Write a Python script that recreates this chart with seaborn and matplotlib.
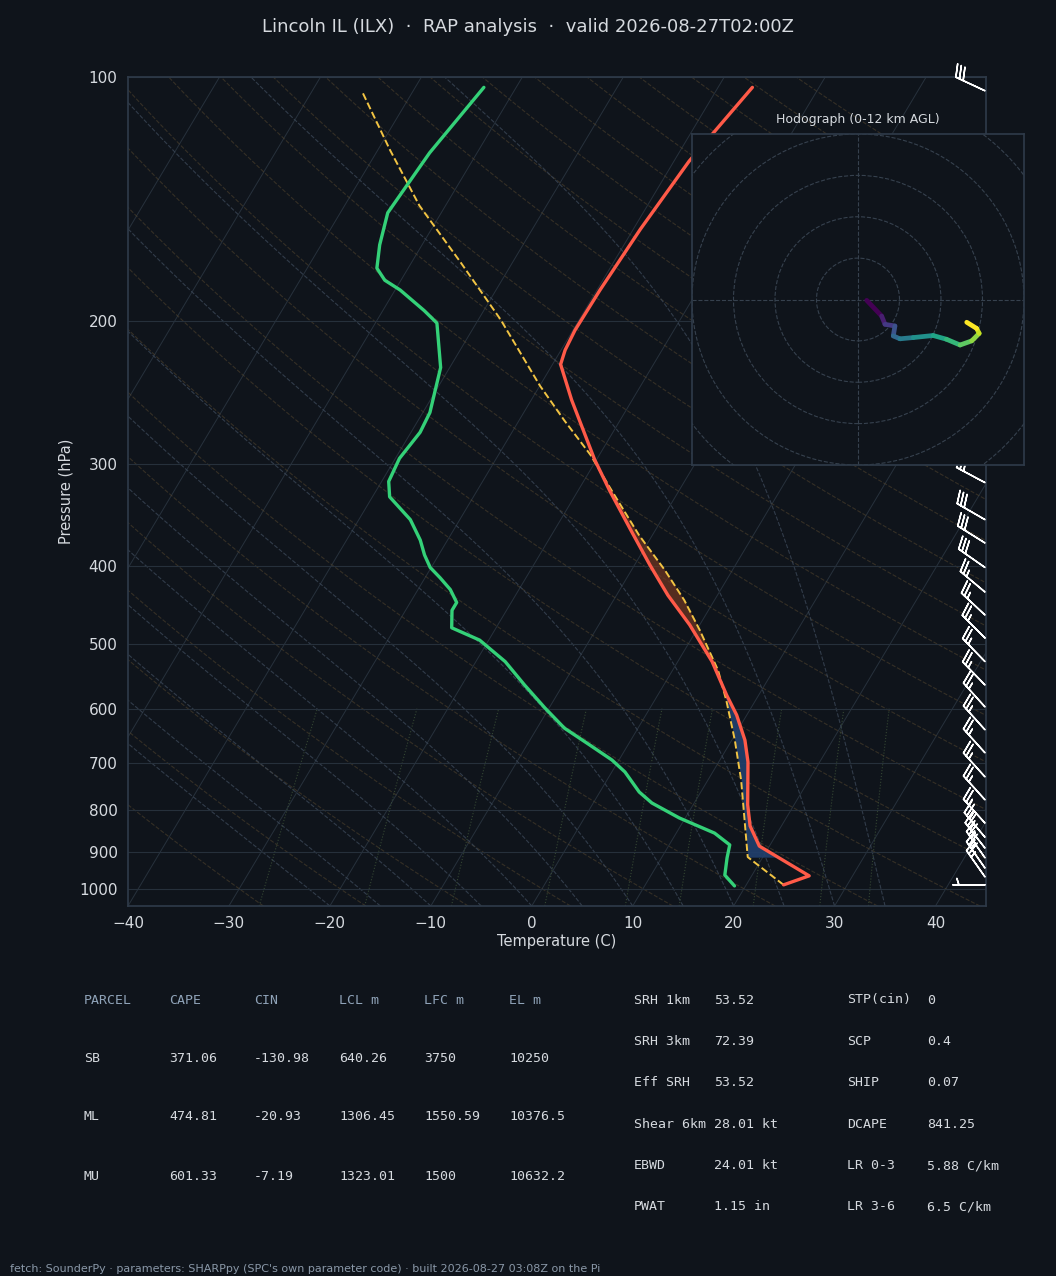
import numpy as np
import matplotlib
matplotlib.use('Agg')
import matplotlib.pyplot as plt
import seaborn as sns
from matplotlib.collections import LineCollection

# ---------------- data ----------------
# environmental temperature profile
T_P = [989, 964, 886, 837, 788, 698, 656, 611, 577, 525, 473, 435, 399, 361, 323, 296,
       250, 226, 217, 205, 183, 154, 127, 103]
T_C = [23.7, 25.7, 19.0, 16.9, 15.4, 12.9, 11.3, 9.0, 6.8, 3.4, -1.0, -4.9, -8.5, -12.5,
       -16.9, -20.2, -26.0, -29.2, -29.6, -29.8, -29.7, -29.3, -28.5, -26.6]
# dewpoint profile
TD_P = [992, 962, 916, 883, 854, 818, 784, 760, 718, 694, 665, 634, 599, 561, 525, 494,
        477, 454, 444, 428, 414, 402, 388, 372, 351, 329, 315, 295, 274, 259, 228, 201,
        194, 183, 178, 172, 161, 147, 124, 103]
TD_C = [18.9, 17.3, 16.5, 16.0, 13.8, 9.4, 5.8, 3.9, 1.3, -0.7, -3.8, -7.3, -10.4, -13.8,
        -17.1, -20.9, -24.4, -25.4, -25.4, -26.8, -28.5, -30.1, -31.4, -32.7, -34.9, -38.3,
        -39.3, -39.6, -39.1, -39.3, -40.9, -43.9, -45.9, -49.5, -51.6, -53.1, -54.2, -55.3,
        -54.7, -53.2]
# surface-based parcel path
PCL_P = [989, 914, 823, 735, 656, 586, 538, 480, 441, 405, 367, 323, 292, 265, 240, 199,
         169, 144, 123, 104]
PCL_C = [23.7, 18.5, 16.0, 13.3, 10.3, 7.1, 4.5, 0.3, -3.0, -6.7, -11.3, -16.7, -20.9,
         -25.5, -30.0, -37.8, -45.2, -52.6, -58.8, -65.1]
# wind barbs
BARB_P = [989, 967, 943, 916, 891, 864, 830, 777, 728, 680, 637, 597, 561, 525, 491, 460,
          431, 402, 375, 351, 316, 285, 250, 210, 180, 150, 130, 104]
BARB_SPD = [5, 25, 25, 25, 25, 25, 25, 25, 25, 25, 25, 25, 25, 25, 25, 25,
            25, 30, 30, 30, 30, 30, 30, 30, 30, 30, 30, 30]
BARB_DIR = [270, 325, 325, 325, 322, 320, 318, 318, 318, 318, 318, 318, 316, 316, 315, 313,
            310, 305, 302, 300, 298, 296, 295, 295, 295, 295, 295, 295]
# hodograph (u, v)
HODO_U = [2.1, 5.7, 6.5, 8.9, 8.5, 10.1, 13.3, 18.1, 21.3, 24.6, 27.4, 29.2, 28.6, 26.2]
HODO_V = [-0.2, -4.0, -6.0, -6.4, -8.8, -9.5, -9.2, -8.7, -9.6, -11.0, -10.0, -8.2, -7.0, -5.5]

CAPE_SHADE_TOP = 540
CIN_SHADE_BOTTOM = 915

PARCEL_ROWS = [
    ["PARCEL", "CAPE", "CIN", "LCL m", "LFC m", "EL m"],
    ["SB", "371.06", "-130.98", "640.26", "3750", "10250"],
    ["ML", "474.81", "-20.93", "1306.45", "1550.59", "10376.5"],
    ["MU", "601.33", "-7.19", "1323.01", "1500", "10632.2"],
]
PARAM_LEFT = [("SRH 1km", "53.52"), ("SRH 3km", "72.39"), ("Eff SRH", "53.52"),
              ("Shear 6km", "28.01 kt"), ("EBWD", "24.01 kt"), ("PWAT", "1.15 in")]
PARAM_RIGHT = [("STP(cin)", "0"), ("SCP", "0.4"), ("SHIP", "0.07"),
               ("DCAPE", "841.25"), ("LR 0-3", "5.88 C/km"), ("LR 3-6", "6.5 C/km")]

# ---------------- style ----------------
BG = '#0f141b'
FG = '#d6dadf'
SPINE = '#2e3a48'
sns.set_theme(style='dark', rc={'figure.facecolor': BG, 'axes.facecolor': BG,
                                'axes.edgecolor': SPINE, 'text.color': FG,
                                'xtick.color': FG, 'ytick.color': FG,
                                'axes.labelcolor': FG})
plt.rcParams['font.family'] = ['DejaVu Sans']

PBOT, PTOP = 1050.0, 100.0
XMIN, XMAX = -40.0, 45.0
SKEW = np.tan(np.radians(30)) * (XMAX - XMIN)


def skew(t, p):
    p = np.asarray(p, float)
    yax = np.log(PBOT / p) / np.log(PBOT / PTOP)
    return np.asarray(t, float) + SKEW * yax


fig = plt.figure(figsize=(10.56, 12.76), dpi=100)
ax = fig.add_axes([0.1212, 0.29, 0.8125, 0.6497])
ax.set_yscale('log')
ax.set_ylim(PBOT, PTOP)
ax.set_xlim(XMIN, XMAX)

# background lines
pp = np.geomspace(PBOT, PTOP, 120)
for t0 in range(-140, 50, 10):
    ax.plot(skew(np.full_like(pp, t0), pp), pp, color='#27313c', lw=0.7, zorder=1)
for th in range(-30, 220, 10):
    tt = (th + 273.15) * (pp / 1000.0) ** 0.2857 - 273.15
    ax.plot(skew(tt, pp), pp, color='#5a4a30', lw=0.8, ls='--', alpha=0.5, zorder=1)


def moist_path(t0):
    ps = np.geomspace(1050, 100, 300)
    ts = [t0 + 273.15]
    for i in range(1, len(ps)):
        T = ts[-1]
        p = ps[i - 1]
        es = 6.112 * np.exp(17.67 * (T - 273.15) / (T - 29.65))
        rs = 0.622 * es / (p - es)
        dtdp = (287.0 * T + 2.5e6 * rs) / (p * (1004.0 + 2.5e6 ** 2 * rs * 0.622 / (287.0 * T * T)))
        ts.append(T + dtdp * (ps[i] - p))
    return ps, np.array(ts) - 273.15


for t0 in range(-20, 40, 5):
    ps, ts = moist_path(t0)
    ax.plot(skew(ts, ps), ps, color='#3a4656', lw=0.8, ls='--', alpha=0.8, zorder=1)
pm = np.geomspace(1050, 600, 40)
for w in [0.4, 1, 2, 4, 7, 10, 16, 24, 32]:
    e = pm * (w / 1000) / (0.622 + w / 1000)
    td = 243.5 * np.log(e / 6.112) / (17.67 - np.log(e / 6.112))
    ax.plot(skew(td, pm), pm, color='#3d5238', lw=0.8, ls=':', alpha=0.8, zorder=1)

# CAPE / CIN shading
grid_p = np.geomspace(985, 300, 400)
lp = np.log(grid_p)[::-1]
env = np.interp(lp, np.log(T_P)[::-1], np.array(T_C)[::-1])[::-1]
pcl = np.interp(lp, np.log(PCL_P)[::-1], np.array(PCL_C)[::-1])[::-1]
xe, xp = skew(env, grid_p), skew(pcl, grid_p)
ax.fill_betweenx(grid_p, xe, xp, where=(pcl > env) & (grid_p <= CAPE_SHADE_TOP),
                 color='#7a3a22', alpha=0.65, zorder=2, lw=0)
ax.fill_betweenx(grid_p, xe, xp, where=(env > pcl) & (grid_p > CAPE_SHADE_TOP) & (grid_p < CIN_SHADE_BOTTOM),
                 color='#21406e', alpha=0.9, zorder=2, lw=0)

sns.lineplot(x=skew(PCL_C, PCL_P), y=PCL_P, sort=False, estimator=None, ax=ax,
             color='#f2c443', lw=1.4, linestyle='--', zorder=3)
sns.lineplot(x=skew(T_C, T_P), y=T_P, sort=False, estimator=None, ax=ax,
             color='#ff5a48', lw=2.4, zorder=4)
sns.lineplot(x=skew(TD_C, TD_P), y=TD_P, sort=False, estimator=None, ax=ax,
             color='#34d178', lw=2.4, zorder=4)

# wind barbs
bd = np.radians(BARB_DIR)
bu = -np.array(BARB_SPD) * np.sin(bd)
bv = -np.array(BARB_SPD) * np.cos(bd)
ax.barbs(np.full(len(BARB_P), 44.9), BARB_P, bu, bv, color='white', length=6.8,
         linewidth=1.1, zorder=5, clip_on=False)

ticks = [100, 200, 300, 400, 500, 600, 700, 800, 900, 1000]
ax.set_yticks(ticks)
ax.set_yticklabels([str(t) for t in ticks], fontsize=11)
ax.yaxis.set_minor_locator(matplotlib.ticker.NullLocator())
ax.set_xticks(range(-40, 50, 10))
ax.set_xticklabels([f'{t}' if t >= 0 else f'\u2212{-t}' for t in range(-40, 50, 10)], fontsize=11)
ax.tick_params(length=4, color=FG)
for p in ticks:
    ax.axhline(p, color='#26303b', lw=0.8, zorder=1)
ax.set_xlabel('Temperature (C)', fontsize=10.5, labelpad=2)
ax.set_ylabel('Pressure (hPa)', fontsize=10.5)
ax.grid(False)
for s in ax.spines.values():
    s.set_color(SPINE)

fig.text(0.5, 1 - 27 / 1276, 'Lincoln IL (ILX)  \u00b7  RAP analysis  \u00b7  valid 2026-08-27T02:00Z',
         ha='center', va='center', fontsize=13, color=FG)

# hodograph inset
hx = fig.add_axes([692 / 1056, 1 - 465 / 1276, 332 / 1056, 331 / 1276])
hx.set_facecolor(BG)
hx.set_xlim(-40, 40)
hx.set_ylim(-40, 40)
for r in range(10, 70, 10):
    hx.add_patch(plt.Circle((0, 0), r, fill=False, ls='--', lw=0.8, color='#36414e'))
hx.axhline(0, color='#36414e', ls='--', lw=0.8)
hx.axvline(0, color='#36414e', ls='--', lw=0.8)
pts = np.column_stack([HODO_U, HODO_V])
segs = np.stack([pts[:-1], pts[1:]], axis=1)
lc = LineCollection(segs, cmap='viridis', lw=3.4, capstyle='round')
lc.set_array(np.arange(len(segs)))
hx.add_collection(lc)
hx.set_xticks([-37.5, -25, -12.5, 0, 12.5, 25, 37.5])
hx.set_yticks(range(-40, 50, 10))
hx.set_xticklabels([])
hx.set_yticklabels([])
hx.tick_params(length=4, color=FG)
hx.grid(False)
for s in hx.spines.values():
    s.set_color(SPINE)
hx.set_title('Hodograph (0-12 km AGL)', fontsize=9, color=FG, pad=8)

# parameter table
MONO = 'DejaVu Sans Mono'
col_x = [84, 169, 254, 339, 424, 509]
row_y = [1000, 1058, 1117, 1176]
for ri, row in enumerate(PARCEL_ROWS):
    for ci, txt in enumerate(row):
        fig.text(col_x[ci] / 1056, 1 - row_y[ri] / 1276, txt, family=MONO, fontsize=9.5,
                 va='center', color='#8fa3b8' if ri == 0 else FG)
for i, ((l1, v1), (l2, v2)) in enumerate(zip(PARAM_LEFT, PARAM_RIGHT)):
    y = 1 - (1000 + i * 41.4) / 1276
    fig.text(634 / 1056, y, l1, family=MONO, fontsize=9.5, va='center', color=FG)
    fig.text(714 / 1056, y, v1, family=MONO, fontsize=9.5, va='center', color=FG)
    fig.text(847 / 1056, y, l2, family=MONO, fontsize=9.5, va='center', color=FG)
    fig.text(927 / 1056, y, v2, family=MONO, fontsize=9.5, va='center', color=FG)

fig.text(10 / 1056, 1 - 1269 / 1276,
         "fetch: SounderPy \u00b7 parameters: SHARPpy (SPC's own parameter code) \u00b7 built 2026-08-27 03:08Z on the Pi",
         fontsize=8, color='#8a98a8', va='center')

fig.savefig('out.png', dpi=100, facecolor=BG)
